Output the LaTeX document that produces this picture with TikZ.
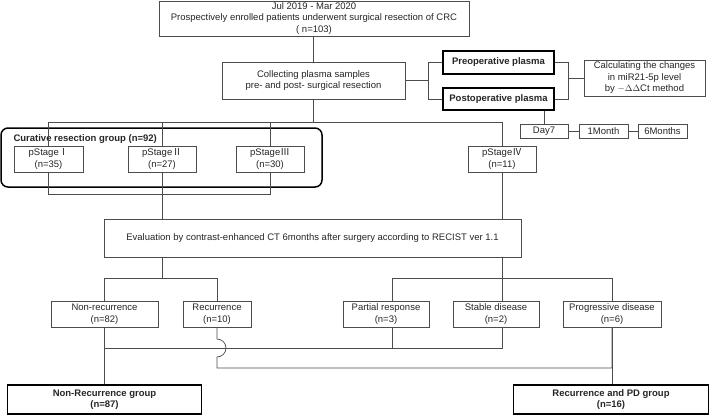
\documentclass[tikz,border=0pt]{standalone}
\usepackage{fontspec}
\setmainfont{Liberation Sans}
\newfontfamily\cjk{Noto Sans CJK JP}
\begin{document}
\begin{tikzpicture}[x=1pt,y=-1pt,
  every node/.style={font=\fontsize{9.5}{11.5}\selectfont, text=black!85},
  box/.style={draw=black!70, line width=0.7pt, fill=white, align=center, inner sep=0pt},
  boldbox/.style={draw=black, line width=1.7pt, fill=white, align=center, inner sep=0pt, font=\fontsize{9.5}{11.5}\selectfont\bfseries},
  conn/.style={draw=black!70, line width=0.7pt},
  group/.style={draw=black, line width=1.5pt, rounded corners=7pt}]
\useasboundingbox (0,0) rectangle (709,415);
% curative group frame
\draw[group] (1,128) rectangle (322,187);
\node[anchor=west, font=\fontsize{9.5}{11.5}\selectfont\bfseries] (cur) at (10,139) {Curative resection group (n=92)};
% boxes
\node[box, minimum width=310, minimum height=35] (top) at (314,18.5) {Jul 2019 - Mar 2020\\Prospectively enrolled patients underwent surgical resection of CRC\\( n=103)};
\node[box, minimum width=183, minimum height=37] (collect) at (313.5,80.5) {Collecting plasma samples\\pre- and post- surgical resection};
\node[boldbox, minimum width=111, minimum height=23] (pre) at (498.5,62.5) {Preoperative plasma};
\node[boldbox, minimum width=111, minimum height=22] (post) at (498.5,99) {Postoperative plasma};
\node[box, minimum width=121, minimum height=36] (calc) at (644.5,78) {Calculating the changes\\in miR21-5p level\\by $-$$\Delta\Delta$Ct method};
\node[box, minimum width=48, minimum height=14] (day7) at (544,131) {Day7};
\node[box, minimum width=49, minimum height=14] (m1) at (603.5,131) {1Month};
\node[box, minimum width=49, minimum height=14] (m6) at (662.5,131) {6Months};
\node[box, minimum width=69, minimum height=26] (s1) at (48.5,159) {pStage{\cjk Ⅰ}\\(n=35)};
\node[box, minimum width=68, minimum height=26] (s2) at (162,159) {pStage{\cjk Ⅱ}\\(n=27)};
\node[box, minimum width=68, minimum height=26] (s3) at (270,159) {pStage{\cjk Ⅲ}\\(n=30)};
\node[box, minimum width=68, minimum height=26] (s4) at (502,159) {pStage{\cjk Ⅳ}\\(n=11)};
\node[box, minimum width=417, minimum height=38] (eval) at (312.5,238) {Evaluation by contrast-enhanced CT 6months after surgery according to RECIST ver 1.1};
\node[box, minimum width=107, minimum height=26] (nonrec) at (104.5,314) {Non-recurrence\\(n=82)};
\node[box, minimum width=68, minimum height=26] (rec) at (217,314) {Recurrence\\(n=10)};
\node[box, minimum width=86, minimum height=26] (pr) at (386,314) {Partial response\\(n=3)};
\node[box, minimum width=86, minimum height=26] (sd) at (496,314) {Stable disease\\(n=2)};
\node[box, minimum width=98, minimum height=26] (pd) at (612,314) {Progressive disease\\(n=6)};
\node[boldbox, minimum width=194, minimum height=29] (nrg) at (104.5,399.5) {Non-Recurrence group\\(n=87)};
\node[boldbox, minimum width=195, minimum height=29] (rpg) at (611,399.5) {Recurrence and PD group\\(n=16)};
% coordinates
\coordinate (bl) at (428,80.5);
\coordinate (br) at (568,78);
\coordinate (j1) at (313.5,122);
\coordinate (j2) at (162,194);
\coordinate (j3) at (162,278);
\coordinate (j4) at (502,278);
\coordinate (j5) at (502,348);
\coordinate (ja) at (217,339);
\coordinate (jb) at (217,368);
% connectors
\draw[conn] (top.south -| j1) -- (collect.north -| j1);
\draw[conn] (collect.east) -- (bl);
\draw[conn] (pre.west) -| (bl);
\draw[conn] (post.west) -| (bl);
\draw[conn] (pre.east) -| (br);
\draw[conn] (post.east) -| (br);
\draw[conn] (br) -- (calc.west);
\draw[conn] (post.south -| day7.north) -- (day7.north);
\draw[conn] (day7.east) -- (m1.west);
\draw[conn] (m1.east) -- (m6.west);
\draw[conn] (collect.south -| j1) -- (j1);
\draw[conn] (s1.north) -- (s1.north |- j1) -| (s4.north);
\draw[conn] (s2.north |- j1) -- (s2.north);
\draw[conn] (s3.north |- j1) -- (s3.north);
\draw[conn] (s1.south) -- (s1.south |- j2) -| (s3.south);
\draw[conn] (s2.south) -- (eval.north -| s2.south);
\draw[conn] (s4.south) -- (eval.north -| s4.south);
\draw[conn] (eval.south -| j3) -- (j3);
\draw[conn] (nonrec.north) -- (nonrec.north |- j3) -| (rec.north);
\draw[conn] (eval.south -| j4) -- (j4);
\draw[conn] ([xshift=6pt]pr.north) -- ([xshift=6pt]pr.north |- j4) -| (pd.north);
\draw[conn] (sd.north -| j4) -- (j4);
\draw[conn] (nonrec.south) -- (nrg.north -| nonrec.south);
\draw[conn] (nonrec.south |- j5) -- (j5) -- (sd.south -| j5);
\draw[conn] ([xshift=6pt]pr.south) -- ([xshift=6pt]pr.south |- j5);
\draw[conn] (rec.south) -- (ja) arc[start angle=90, end angle=-90, radius=9pt] -- (jb) -| (pd.south);
\draw[conn] (pd.south) -- (rpg.north -| pd.south);
\end{tikzpicture}
\end{document}
